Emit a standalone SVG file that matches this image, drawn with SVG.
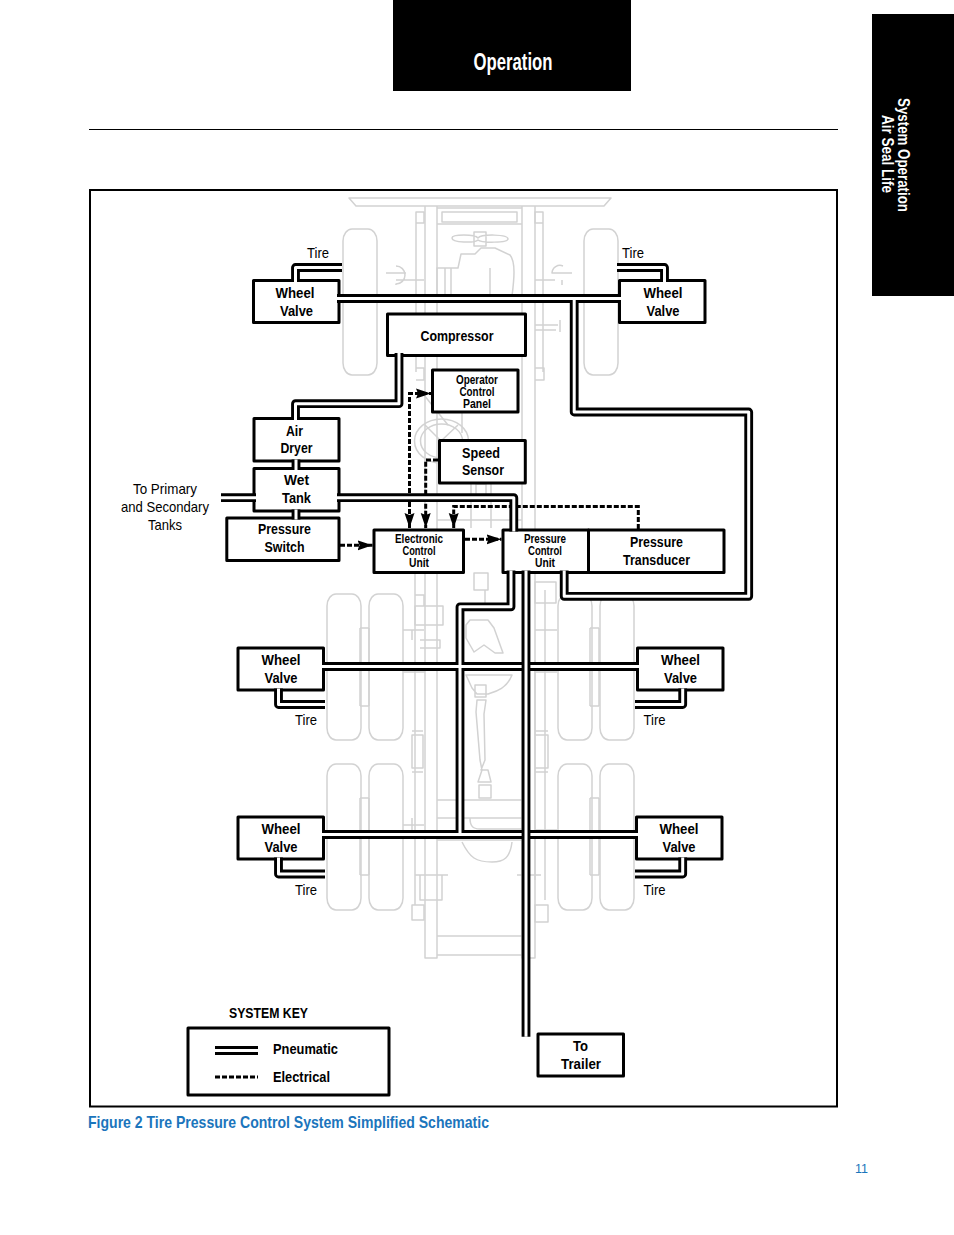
<svg xmlns="http://www.w3.org/2000/svg" width="954" height="1235" viewBox="0 0 954 1235">
<style>
text{font-family:"Liberation Sans Narrow","Liberation Sans",Arial,sans-serif;fill:#000}
.b{font-weight:700;font-size:15px;text-anchor:middle}
.s{font-weight:700;font-size:12.5px;text-anchor:middle}
.r{font-size:15px;text-anchor:middle}
.box{fill:#fff;stroke:#000;stroke-width:3;stroke-linejoin:round}
.g{fill:none;stroke:#d2d2d2;stroke-width:1.5;stroke-linejoin:round}
.pb{fill:none;stroke:#000;stroke-width:8.8;stroke-linejoin:round}
.pw{fill:none;stroke:#fff;stroke-width:3;stroke-linejoin:round}
.e{fill:none;stroke:#000;stroke-width:3;stroke-dasharray:5 2}
.ea{marker-end:url(#arr)}
</style>
<defs>
<marker id="arr" markerUnits="userSpaceOnUse" markerWidth="16" markerHeight="12" refX="15" refY="5.5" orient="auto-start-reverse"><path d="M0 0.5L15 5.5L0 10.500L2 5.5Z" fill="#000"/></marker>
<g id="tire"><rect x="0" y="0" width="34" height="146" rx="9" ry="12" class="g"/></g>
<path id="pneu" d="M337 298.500H621M574.200 298.500V412H748.700V596.300H564.200V570.500M342 267.500H295.500V282M617 267.500H664.500V282M399 353V403.700H295.500V420M296 459.500V470M296 509.500V519.500M221 497.700H256M337 497.700H513.800V531.500M511 570.500V606.800H460V834.500M322 666.500H639M322 834.500H638M325 704.500H278.500V688.500M325 874H278.500V857.500M635 704.500H682.700V688.500M635 874H682.700V857.500"/>
</defs>

<g id="truck">
<path class="g" d="M349 198H611L604 206H356Z"/>
<path class="g" d="M425 206V958H437V206M522 206V958H535V206"/>
<path class="g" d="M437 936H522M437 955H522M437 224H522M437 208H522M442 212H517V222H442Z"/>
<path class="g" d="M416 212H424V223H416ZM416 223V372M416 368H424V380H416M535 212H543V223H535ZM543 223V372M535 368H544V380H535"/>
<use href="#tire" x="343" y="229"/><use href="#tire" x="584" y="229"/>
<use href="#tire" x="327" y="594"/><use href="#tire" x="369" y="594"/><use href="#tire" x="558" y="594"/><use href="#tire" x="600" y="594"/>
<use href="#tire" x="327" y="764"/><use href="#tire" x="369" y="764"/><use href="#tire" x="558" y="764"/><use href="#tire" x="600" y="764"/>
<path class="g" d="M360 628H369M360 706H369M590 628H599M590 706H599M360 628V706M369 628V706M590 628V706M599 628V706M360 798H369M360 875H369M590 798H599M590 875H599M360 798V875M369 798V875M590 798V875M599 798V875"/>
<path class="g" d="M452 238C452 234 475 234 478 238C481 234 508 234 508 239C508 243 481 243 478 240C475 243 452 243 452 238ZM474 232H486V246H474ZM437 268H458L461 254H475L481 248H495L510 255C516 262 514 280 512 296H437ZM445 268V296M451 268V296M490 268V296"/>
<path class="g" d="M386 273H406M396 266A8 8 0 0 1 396 284V285M396 280H424M563 266A8 8 0 0 0 552 273H572M562 280V285M535 280H555"/>
<path class="g" d="M535 325H558M560 320V332M535 330H556"/>
<ellipse class="g" cx="441.500" cy="441" rx="27" ry="22"/><ellipse class="g" cx="441.500" cy="441" rx="21" ry="17"/>
<path class="g" d="M424 395L448 425M468 412V370M462 413V433M441 441L425 425M441 441L458 425"/>
<path class="g" d="M471 484V528M491 484V528M476 484H486V500H476ZM437 520H522"/>
<path class="g" d="M474 573H488V590H474ZM477 590H485V605H477M470 620H488L494 628L503 653H495L484 645L474 652L466 638V625ZM465 606H495"/>
<path class="g" d="M466 675H512C506 690 494 692 488 694H477L472 688ZM475 685H486V697H475ZM477 700H486L484 714L485 760L481 770H488L491 782H478L482 770L480 760L476 712ZM479 785H491V798H479Z"/>
<path class="g" d="M437 800H522M437 818H522M437 840H522M462 842C470 858 476 862 492 862C504 862 510 858 512 842M470 818C470 825 472 829 480 829H522"/>
<path class="g" d="M415 595H424V606H415M403 630H424M412 630V640M415 606H443V625H415ZM420 640H440V648H420M403 825H424M412 818V830M420 875H442V900H420ZM415 875H448M412 905H424V920H412ZM412 735H423V768H412ZM412 731H423M412 772H423"/>
<path class="g" d="M535 582H556V603H535ZM535 630H557M535 735H548V768H535ZM535 731H548M535 772H548M535 830H557M517 875H541M535 905H548V922H535ZM535 660V880M545 590V900"/>
<path class="g" d="M403 672H425M403 838H425M535 672H557M535 838H557M415 560V905"/>
</g>

<rect id="header" x="393" y="0" width="238" height="91" fill="#000"/>
<rect id="side-tab" x="872" y="14" width="82" height="282" fill="#000"/>
<text x="513" y="69.500" font-size="23" font-weight="700" text-anchor="middle" textLength="79" lengthAdjust="spacingAndGlyphs" style="fill:#fff">Operation</text>
<text transform="translate(898 155) rotate(90)" font-size="17" font-weight="700" text-anchor="middle" textLength="114" lengthAdjust="spacingAndGlyphs" style="fill:#fff">System Operation</text>
<text transform="translate(882 154) rotate(90)" font-size="17" font-weight="700" text-anchor="middle" textLength="78" lengthAdjust="spacingAndGlyphs" style="fill:#fff">Air Seal Life</text>
<path d="M89 129.500H838" stroke="#000" stroke-width="1"/>
<rect id="frame" x="90" y="190" width="747" height="916.500" fill="none" stroke="#000" stroke-width="2"/>

<g id="nodes">
<g id="wv-fl"><rect class="box" x="253.500" y="280.500" width="85.500" height="42"/><text class="b" x="295" y="298" textLength="39" lengthAdjust="spacingAndGlyphs">Wheel</text><text class="b" x="296.500" y="316" textLength="33" lengthAdjust="spacingAndGlyphs">Valve</text></g>
<g id="wv-fr"><rect class="box" x="619.500" y="280.500" width="85.500" height="42"/><text class="b" x="663" y="298" textLength="39" lengthAdjust="spacingAndGlyphs">Wheel</text><text class="b" x="663" y="316" textLength="33" lengthAdjust="spacingAndGlyphs">Valve</text></g>
<g id="compressor"><rect class="box" x="387.500" y="314" width="138" height="41.500"/><text class="b" x="457" y="341" textLength="73" lengthAdjust="spacingAndGlyphs">Compressor</text></g>
<g id="panel"><rect class="box" x="432.500" y="370" width="85.500" height="42"/><text class="s" x="477" y="384" textLength="42" lengthAdjust="spacingAndGlyphs">Operator</text><text class="s" x="477" y="396" textLength="35" lengthAdjust="spacingAndGlyphs">Control</text><text class="s" x="477" y="408" textLength="28" lengthAdjust="spacingAndGlyphs">Panel</text></g>
<g id="dryer"><rect class="box" x="254" y="418.500" width="85" height="42.500"/><text class="b" x="294.500" y="436" textLength="17" lengthAdjust="spacingAndGlyphs">Air</text><text class="b" x="296.500" y="453" textLength="32" lengthAdjust="spacingAndGlyphs">Dryer</text></g>
<g id="wet-tank"><rect class="box" x="254" y="468.500" width="85" height="42.500"/><text class="b" x="296.500" y="485" textLength="25" lengthAdjust="spacingAndGlyphs">Wet</text><text class="b" x="296.500" y="503" textLength="29" lengthAdjust="spacingAndGlyphs">Tank</text></g>
<g id="pswitch"><rect class="box" x="226.800" y="518" width="112.200" height="42.500"/><text class="b" x="284.500" y="534" textLength="53" lengthAdjust="spacingAndGlyphs">Pressure</text><text class="b" x="284.500" y="552" textLength="40" lengthAdjust="spacingAndGlyphs">Switch</text></g>
<g id="speed"><rect class="box" x="439.500" y="440.500" width="85.800" height="42.500"/><text class="b" x="481" y="458" textLength="38" lengthAdjust="spacingAndGlyphs">Speed</text><text class="b" x="483" y="475" textLength="42" lengthAdjust="spacingAndGlyphs">Sensor</text></g>
<g id="ecu"><rect class="box" x="374" y="530" width="89.500" height="42.500"/><text class="s" x="419" y="543" textLength="48" lengthAdjust="spacingAndGlyphs">Electronic</text><text class="s" x="419" y="555" textLength="33" lengthAdjust="spacingAndGlyphs">Control</text><text class="s" x="419" y="567" textLength="20" lengthAdjust="spacingAndGlyphs">Unit</text></g>
<g id="pcu"><rect class="box" x="503" y="530" width="85.500" height="42.500"/><text class="s" x="545" y="543" textLength="42" lengthAdjust="spacingAndGlyphs">Pressure</text><text class="s" x="545" y="555" textLength="34" lengthAdjust="spacingAndGlyphs">Control</text><text class="s" x="545" y="567" textLength="20" lengthAdjust="spacingAndGlyphs">Unit</text></g>
<g id="transducer"><rect class="box" x="588.500" y="530" width="135.500" height="42.500"/><text class="b" x="656.500" y="547" textLength="53" lengthAdjust="spacingAndGlyphs">Pressure</text><text class="b" x="656.500" y="565" textLength="67" lengthAdjust="spacingAndGlyphs">Transducer</text></g>
<g id="wv-ml"><rect class="box" x="238" y="648" width="85.500" height="42"/><text class="b" x="281" y="665" textLength="39" lengthAdjust="spacingAndGlyphs">Wheel</text><text class="b" x="281" y="683" textLength="33" lengthAdjust="spacingAndGlyphs">Valve</text></g>
<g id="wv-mr"><rect class="box" x="637.500" y="648" width="85.500" height="42"/><text class="b" x="680.500" y="665" textLength="39" lengthAdjust="spacingAndGlyphs">Wheel</text><text class="b" x="680.500" y="683" textLength="33" lengthAdjust="spacingAndGlyphs">Valve</text></g>
<g id="wv-rl"><rect class="box" x="238" y="817" width="85.500" height="42"/><text class="b" x="281" y="834" textLength="39" lengthAdjust="spacingAndGlyphs">Wheel</text><text class="b" x="281" y="852" textLength="33" lengthAdjust="spacingAndGlyphs">Valve</text></g>
<g id="wv-rr"><rect class="box" x="636.500" y="817" width="85.500" height="42"/><text class="b" x="679" y="834" textLength="39" lengthAdjust="spacingAndGlyphs">Wheel</text><text class="b" x="679" y="852" textLength="33" lengthAdjust="spacingAndGlyphs">Valve</text></g>
<g id="to-trailer"><rect class="box" x="538" y="1034" width="85.500" height="42"/><text class="b" x="580.500" y="1051" textLength="15" lengthAdjust="spacingAndGlyphs">To</text><text class="b" x="581" y="1069" textLength="40" lengthAdjust="spacingAndGlyphs">Trailer</text></g>
<g id="key"><rect class="box" x="188" y="1028" width="201" height="67"/><text class="b" x="268.500" y="1018" textLength="79" lengthAdjust="spacingAndGlyphs">SYSTEM KEY</text><text class="b" x="305.500" y="1054" textLength="65" lengthAdjust="spacingAndGlyphs">Pneumatic</text><text class="b" x="301.500" y="1082" textLength="57" lengthAdjust="spacingAndGlyphs">Electrical</text><path d="M215 1050.500H258" stroke="#000" stroke-width="8.800"/><path d="M215 1050.500H258" stroke="#fff" stroke-width="3"/><path class="e" d="M215 1077H258"/></g>
</g>

<g id="connectors">
<path class="e" d="M409.500 528V393.500H431" marker-start="url(#arr)" marker-end="url(#arr)"/>
<path class="e ea" d="M438 460H425.700V528"/>
<path class="e ea" d="M638.300 529V506.500H453.700V528"/>
<path class="e ea" d="M340 545.300H372.500"/>
<path class="e ea" d="M465 539.300H501.500"/>
<use href="#pneu" class="pb"/>
<use href="#pneu" class="pw"/>
<path class="pb" d="M526 570.500V1036.700"/>
<path class="pw" d="M526 570.500V1036.700"/>
</g>

<g id="labels">
<text class="r" x="318" y="258" textLength="22" lengthAdjust="spacingAndGlyphs">Tire</text>
<text class="r" x="633" y="258" textLength="22" lengthAdjust="spacingAndGlyphs">Tire</text>
<text class="r" x="306" y="725" textLength="22" lengthAdjust="spacingAndGlyphs">Tire</text>
<text class="r" x="654.500" y="725" textLength="22" lengthAdjust="spacingAndGlyphs">Tire</text>
<text class="r" x="306" y="895" textLength="22" lengthAdjust="spacingAndGlyphs">Tire</text>
<text class="r" x="654.500" y="895" textLength="22" lengthAdjust="spacingAndGlyphs">Tire</text>
<text class="r" x="165" y="494" textLength="64" lengthAdjust="spacingAndGlyphs">To Primary</text>
<text class="r" x="165" y="512" textLength="88" lengthAdjust="spacingAndGlyphs">and Secondary</text>
<text class="r" x="165" y="530" textLength="34" lengthAdjust="spacingAndGlyphs">Tanks</text>
<text x="88" y="1128" font-size="16.500" font-weight="700" textLength="401" lengthAdjust="spacingAndGlyphs" style="fill:#1b75bc">Figure 2 Tire Pressure Control System Simplified Schematic</text>
<text x="855" y="1173" font-size="12" textLength="13" lengthAdjust="spacingAndGlyphs" style="fill:#1b75bc">11</text>
</g>
</svg>
